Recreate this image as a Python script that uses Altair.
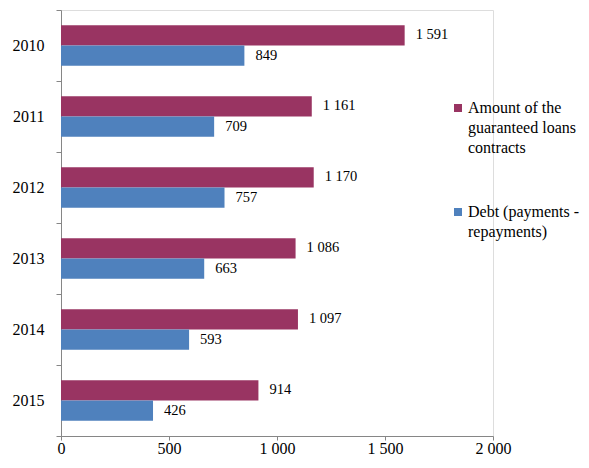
import altair as alt
import pandas as pd

years = ["2010", "2011", "2012", "2013", "2014", "2015"]
amount = [1591, 1161, 1170, 1086, 1097, 914]
debt = [849, 709, 757, 663, 593, 426]
series = ["Amount of the guaranteed loans contracts", "Debt (payments - repayments)"]
colors = ["#993462", "#4F81BD"]

rows = []
for y, a, d in zip(years, amount, debt):
    rows.append({"year": y, "series": series[0], "value": a})
    rows.append({"year": y, "series": series[1], "value": d})
df = pd.DataFrame(rows)

FONT = "Liberation Serif"

base = alt.Chart(df).encode(
    y=alt.Y("year:N", sort=years, title=None,
            scale=alt.Scale(paddingInner=0, paddingOuter=0),
            axis=alt.Axis(tickBand="extent", labelFontSize=16, labelFont=FONT,
                          labelColor="black", domainColor="#868686", tickColor="#868686",
                          tickSize=5, labelPadding=12, grid=False)),
    yOffset=alt.YOffset("series:N", sort=series,
                        scale=alt.Scale(paddingInner=0, paddingOuter=0.75)),
)

bars = base.mark_bar().encode(
    x=alt.X("value:Q", title=None,
            scale=alt.Scale(domain=[0, 2000]),
            axis=alt.Axis(values=[0, 500, 1000, 1500, 2000], grid=False, labelFlush=False,
                          labelExpr="replace(format(datum.value, ','), ',', ' ')",
                          labelFontSize=16, labelFont=FONT, labelColor="black",
                          domainColor="#868686", tickColor="#868686", tickSize=4,
                          labelPadding=0)),
    color=alt.Color("series:N", sort=series,
                    scale=alt.Scale(domain=series, range=colors),
                    legend=alt.Legend(title=None, orient="none", legendX=389, legendY=90,
                                      labelExpr="datum.label == 'Debt (payments - repayments)' ? ['Debt (payments -', 'repayments)'] : ['Amount of the', 'guaranteed loans', 'contracts']",
                                      labelFont=FONT, labelFontSize=16, labelColor="black",
                                      symbolType="square", symbolSize=64, symbolStrokeWidth=0,
                                      labelOffset=2,
                                      rowPadding=48, labelLimit=200)),
)

labels = base.mark_text(align="left", baseline="middle", dx=11, font=FONT, fontSize=14.5,
                        color="black").encode(
    x="value:Q",
    text="label:N",
).transform_calculate(
    label="replace(format(datum.value, ','), ',', ' ')"
)

chart = (bars + labels).properties(
    width=432, height=426,
    autosize=alt.AutoSizeParams(type="none"),
    padding={"left": 53, "top": 2, "right": 88, "bottom": 19},
).configure_view(stroke=None).configure(style={"guide-label": {"lineHeight": 20}})

chart.save("out.html", embed_options={"renderer": "svg", "actions": False})
